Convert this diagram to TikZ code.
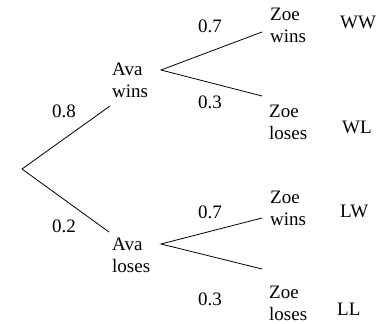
\documentclass[tikz,border=0pt]{standalone}
\usepackage{fontspec}
\setmainfont{Liberation Serif}
\begin{document}
\begin{tikzpicture}[x=1pt,y=-1pt,
  lbl/.style={anchor=base west,inner sep=0pt,font=\fontsize{19}{22}\selectfont},
  branch/.style={line width=0.8pt,line cap=round}]
\useasboundingbox (0,0) rectangle (381,324);
\newcommand{\twoline}[2]{\begin{tabular}[t]{@{}l@{}}#1\\#2\end{tabular}}

% outcome nodes
\node[lbl] (aw)  at (112,75)  {\twoline{Ava}{wins}};
\node[lbl] (al)  at (112,250) {\twoline{Ava}{loses}};
\node[lbl] (zw1) at (270,20)  {\twoline{Zoe}{wins}};
\node[lbl] (zl1) at (269,117) {\twoline{Zoe}{loses}};
\node[lbl] (zw2) at (270,203) {\twoline{Zoe}{wins}};
\node[lbl] (zl2) at (269,298) {\twoline{Zoe}{loses}};

% probabilities
\node[lbl] (p08)  at (52,117)  {0.8};
\node[lbl] (p02)  at (52,232)  {0.2};
\node[lbl] (p07a) at (198,32)  {0.7};
\node[lbl] (p03a) at (198,108) {0.3};
\node[lbl] (p07b) at (198,218) {0.7};
\node[lbl] (p03b) at (198,305) {0.3};

% combined results
\node[lbl] (ww) at (340,28)  {WW};
\node[lbl] (wl) at (342,133) {WL};
\node[lbl] (lw) at (340,217) {LW};
\node[lbl] (ll) at (337,315) {LL};

% branch points
\coordinate (root) at (22,169);
\coordinate (a1)   at (110,106);
\coordinate (a2)   at (109,232);
\coordinate (v1)   at (161,70);
\coordinate (e11)  at (262,32);
\coordinate (e12)  at (262,96);
\coordinate (v2)   at (161,244);
\coordinate (e21)  at (262,218);
\coordinate (e22)  at (262,269);

\draw[branch] (a1) -- (root) -- (a2);
\draw[branch] (e11) -- (v1) -- (e12);
\draw[branch] (e21) -- (v2) -- (e22);
\end{tikzpicture}
\end{document}
